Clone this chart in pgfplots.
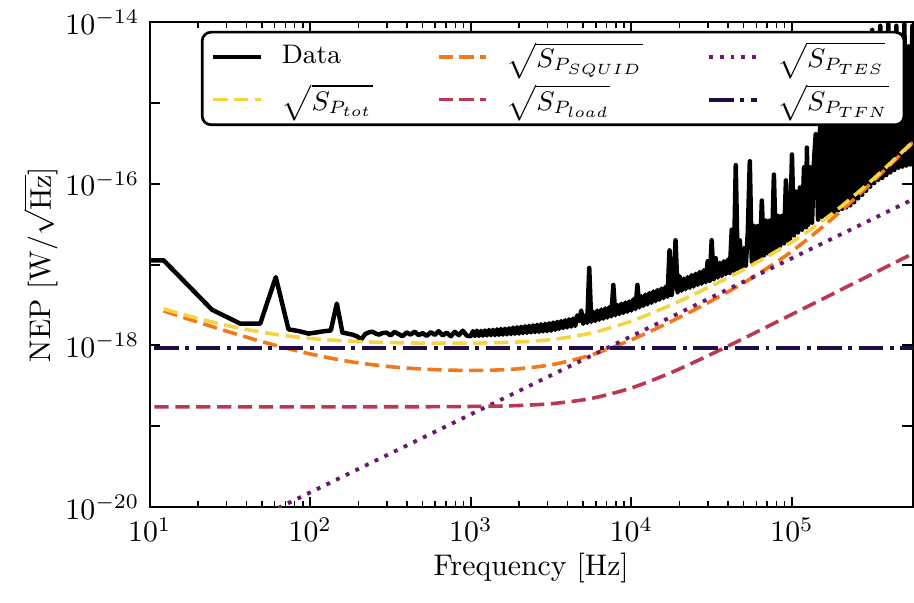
\documentclass[border=0pt]{standalone}
\usepackage{pgfplots}
\pgfplotsset{compat=1.18}
\definecolor{ctot}{HTML}{F4D444}
\definecolor{csquid}{HTML}{F37819}
\definecolor{cload}{HTML}{BC3754}
\definecolor{ctes}{HTML}{6A176E}
\definecolor{ctfn}{HTML}{1F0C48}
\begin{document}
\begin{tikzpicture}
\begin{axis}[
  scale only axis, width=256pt, height=162.7pt,
  xmode=log, ymode=log,
  xmin=10, xmax=5.66e5, ymin=1e-20, ymax=1e-14,
  tick align=inside, tick pos=both,
  major tick length=3.5pt, minor tick length=2pt,
  major tick style={black, line width=0.7pt},
  minor tick style={black, line width=0.5pt},
  ytick={1e-20,1e-19,1e-18,1e-17,1e-16,1e-15,1e-14},
  yticklabels={$10^{-20}$,,$10^{-18}$,,$10^{-16}$,,$10^{-14}$},
  yminorticks=false,
  xtick={10,100,1000,10000,100000},
  axis line style={line width=0.8pt},
  xlabel={Frequency [Hz]},
  ylabel={NEP [W/$\sqrt{\mathrm{Hz}}$]},
  xlabel shift=-3pt, ylabel shift=-4.5pt,
  legend columns=3,
  legend cell align=left,
  legend image code/.code={\draw[mark repeat=2,mark phase=2,#1] plot coordinates {(0cm,0cm) (0.28cm,0cm) (0.56cm,0cm)};},
  legend style={at={(0.067,0.982)}, anchor=north west, draw=black, line width=0.9pt,
    rounded corners=3pt, inner xsep=3pt, inner ysep=1.2pt, row sep=0pt,
    font=\fontsize{9}{10}\selectfont,
    /tikz/every odd column/.append style={column sep=4.3pt},
    /tikz/every even column/.append style={column sep=19.5pt}},
]
\addplot[black, line width=1.5pt, line join=round] coordinates {
(6.1,1.13e-17) (12.2,1.13e-17) (24.4,2.77e-18) (36.6,1.86e-18) (48.8,1.86e-18) (61.0,7.0e-18) (73.2,1.58e-18) (85.4,1.50e-18) (97.6,1.40e-18) (109.8,1.45e-18) (122.0,1.50e-18) (134.2,1.53e-18) (146.4,3.3e-18) (158.6,1.44e-18) (170.8,1.40e-18) (183.0,1.36e-18) (195.2,1.30e-18) (207.4,1.18e-18) (219.6,1.38e-18) (231.8,1.45e-18) (244.0,1.48e-18) (256.2,1.40e-18) (268.4,1.36e-18) (280.6,1.42e-18)
(298.5,1.44e-18) (316.2,1.33e-18) (335.0,1.47e-18) (354.8,1.38e-18) (375.8,1.30e-18) (398.1,1.45e-18) (421.7,1.36e-18) (446.7,1.48e-18) (473.2,1.34e-18) (501.2,1.42e-18) (530.9,1.31e-18) (562.3,1.46e-18) (595.7,1.35e-18) (631.0,1.50e-18) (668.3,1.33e-18) (707.9,1.44e-18) (749.9,1.30e-18) (794.3,1.47e-18) (841.4,1.34e-18) (891.3,1.52e-18) (944.1,1.32e-18)
(1000,1.30e-18) (1029,1.50e-18) (1059,1.31e-18) (1090,1.52e-18) (1122,1.31e-18) (1155,1.51e-18) (1189,1.32e-18) (1223,1.53e-18) (1259,1.33e-18) (1296,1.55e-18) (1334,1.34e-18) (1373,1.56e-18) (1413,1.34e-18) (1454,1.58e-18) (1496,1.35e-18) (1540,1.60e-18) (1585,1.36e-18) (1631,1.61e-18) (1679,1.37e-18) (1728,1.63e-18)
(1778,1.38e-18) (1830,1.66e-18) (1884,1.39e-18) (1939,1.68e-18) (1995,1.40e-18) (2054,1.70e-18) (2113,1.42e-18) (2175,1.73e-18) (2239,1.43e-18) (2304,1.75e-18) (2371,1.45e-18) (2441,1.77e-18) (2512,1.46e-18) (2585,1.80e-18) (2661,1.47e-18) (2738,1.83e-18) (2818,1.49e-18) (2901,1.85e-18) (2985,1.50e-18) (3073,1.88e-18)
(3162,1.52e-18) (3255,1.92e-18) (3350,1.56e-18) (3447,1.96e-18) (3548,1.60e-18) (3652,2.00e-18) (3758,1.64e-18) (3868,2.05e-18) (3981,1.67e-18) (4097,2.10e-18) (4217,1.71e-18) (4340,2.15e-18) (4467,1.74e-18) (4597,2.35e-18) (4732,2.00e-18) (4870,2.70e-18) (5012,1.85e-18) (5158,2.35e-18) (5309,1.90e-18) (5464,9.1e-18)
(5623,1.95e-18) (5788,2.60e-18) (5957,2.01e-18) (6131,2.70e-18) (6310,2.08e-18) (6494,2.78e-18) (6683,2.14e-18) (6879,2.87e-18) (7079,2.21e-18) (7286,2.97e-18) (7499,2.29e-18) (7718,5.6e-18) (7943,2.36e-18) (8175,3.17e-18) (8414,2.44e-18) (8660,3.28e-18) (8913,2.52e-18) (9173,3.39e-18) (9441,2.61e-18) (9716,3.50e-18)
(10000,2.70e-18) (10292,3.72e-18) (10593,2.82e-18) (10902,5.6e-18) (11220,2.95e-18) (11548,4.05e-18) (11885,3.08e-18) (12232,4.25e-18) (12589,3.22e-18) (12957,4.45e-18) (13335,3.37e-18) (13725,4.65e-18) (14125,3.52e-18) (14538,4.85e-18) (14962,3.68e-18) (15399,5.05e-18) (15849,3.84e-18) (16312,5.3e-18) (16788,4.0e-18) (17278,1.5e-17)
(17783,4.2e-18) (18302,6.0e-18) (18836,2.0e-17) (19387,4.55e-18) (19953,7.2e-18) (20535,4.75e-18) (21135,6.7e-18) (21752,4.95e-18) (22387,7.0e-18) (23041,5.15e-18) (23714,7.4e-18) (24406,5.35e-18) (25119,7.7e-18) (25852,5.6e-18) (26607,8.1e-18) (27384,5.8e-18) (28184,8.5e-18) (29007,6.05e-18) (29854,1.1e-17) (30726,6.3e-18)
(31623,2.0e-17) (32546,6.6e-18) (33497,1.2e-17) (34475,6.9e-18) (35481,1.05e-17) (36517,7.2e-18) (37584,1.1e-17) (38681,7.6e-18) (39811,1.15e-17) (40973,7.9e-18) (42170,2.7e-17) (43401,8.4e-18) (44668,1.7e-16) (45973,8.8e-18) (47315,2.0e-17) (48697,9.2e-18) (50119,1.6e-17) (51582,9.7e-18) (53088,2.5e-17) (54639,1.9e-16)
(56234,10.8e-18) (57876,3.0e-17) (59566,11.5e-18) (61306,3.0e-17) (63096,12.2e-18) (64938,6.2e-17) (66834,13.0e-18) (68785,3.5e-17) (70795,13.8e-18) (72862,3.5e-17) (74989,14.7e-18) (77179,1.3e-16) (79433,15.8e-18) (81752,4.0e-17) (84140,17e-18) (86596,4.0e-17) (89125,18.3e-18) (91728,1.1e-16) (94406,19.7e-18) (97163,20.5e-18)
(100000,2.3e-16) (102900,2.3e-17) (105900,8.0e-17) (109000,2.5e-17) (112200,9.0e-17) (115500,2.7e-17) (118900,1.6e-16) (122300,2.9e-17) (123900,2.8e-16) (125900,3.1e-17) (129600,1.6e-16) (133400,3.3e-17) (137300,2.0e-16) (140600,4.1e-16) (145400,3.6e-17) (149600,5.0e-16) (154000,3.9e-17) (158500,6.0e-16) (163100,4.1e-17) (167900,5.5e-16) (172800,4.3e-17) (177800,7.0e-16) (183000,4.5e-17) (188400,6.0e-16) (193900,4.7e-17) (199500,8.0e-16) (205400,4.9e-17) (211300,7.0e-16) (217500,5.1e-17) (223900,9.0e-16) (230400,5.4e-17) (237100,8.0e-16) (244100,5.9e-17) (251200,1.0e-15) (258500,6.6e-17) (266100,1.5e-15) (273800,7.3e-17) (281800,3.0e-15) (290000,8.2e-17) (298500,5.0e-15) (307200,9.2e-17) (316200,8.0e-15) (325400,1.02e-16) (335000,4.0e-15) (344700,1.12e-16) (354800,9.0e-15) (365200,1.18e-16) (375800,6.0e-15) (386800,1.28e-16) (398100,9.5e-15) (409700,1.38e-16) (421700,3.0e-15) (434000,1.48e-16) (446700,9.0e-15) (459700,1.58e-16) (473200,7.0e-15) (487000,1.63e-16) (501200,9.5e-15) (515800,1.68e-16) (530900,5.0e-15) (546400,1.73e-16) (562300,9.0e-15) (578700,1.78e-16)
};
\addlegendentry{Data}
\addplot[csquid, line width=1.2pt, dash pattern=on 4.8pt off 2.2pt, smooth] coordinates {
(12.2,2.68e-18) (17.78,2.09e-18) (31.62,1.458e-18) (56.23,1.044e-18) (100,7.84e-19) (177.8,6.29e-19) (316.2,5.45e-19) (562.3,5.04e-19) (1000,4.905e-19) (1778,5.06e-19) (3162,5.754e-19) (5623,7.62e-19) (10000,1.173e-18) (17783,1.989e-18) (31623,3.569e-18) (56234,6.824e-18) (100000,1.464e-17) (177828,3.678e-17) (316228,1.050e-16) (566000,3.24e-16)
};
\addlegendentry{$\sqrt{S_{P_{SQUID}}}$}
\addplot[ctes, line width=1.3pt, dash pattern=on 1.3pt off 2.3pt, smooth] coordinates {
(31.62,5.0e-21) (56.23,8.7e-21) (100,1.519e-20) (177.8,2.649e-20) (316.2,4.62e-20) (562.3,8.05e-20) (1000,1.404e-19) (1778,2.448e-19) (3162,4.27e-19) (5623,7.44e-19) (10000,1.298e-18) (17783,2.264e-18) (31623,3.948e-18) (56234,6.88e-18) (100000,1.2e-17) (177828,2.093e-17) (316228,3.65e-17) (566000,6.41e-17)
};
\addlegendentry{$\sqrt{S_{P_{TES}}}$}
\addplot[ctot, line width=1.2pt, dash pattern=on 4.8pt off 2.2pt, smooth] coordinates {
(12.2,2.835e-18) (17.78,2.293e-18) (31.62,1.733e-18) (56.23,1.403e-18) (100,1.221e-18) (177.8,1.128e-18) (316.2,1.084e-18) (562.3,1.066e-18) (1000,1.067e-18) (1778,1.093e-18) (3162,1.181e-18) (5623,1.425e-18) (10000,1.999e-18) (17783,3.185e-18) (31623,5.458e-18) (56234,9.83e-18) (100000,1.911e-17) (177828,4.255e-17) (316228,1.114e-16) (566000,3.30e-16)
};
\addlegendentry{$\sqrt{S_{P_{tot}}}$}
\addplot[cload, line width=1.2pt, dash pattern=on 4.8pt off 2.2pt, smooth] coordinates {
(10.7,1.74e-19) (100,1.74e-19) (316.2,1.742e-19) (562.3,1.745e-19) (1000,1.757e-19) (1778,1.792e-19) (3162,1.900e-19) (5623,2.208e-19) (10000,2.978e-19) (17783,4.636e-19) (31623,7.838e-19) (56234,1.370e-18) (100000,2.423e-18) (177828,4.30e-18) (316228,7.644e-18) (566000,1.368e-17)
};
\addlegendentry{$\sqrt{S_{P_{load}}}$}
\addplot[ctfn, line width=1.3pt, dash pattern=on 8.2pt off 2.2pt on 1.3pt off 2.2pt] coordinates {
(10.7,9.2e-19) (566000,9.2e-19)
};
\addlegendentry{$\sqrt{S_{P_{TFN}}}$}
\end{axis}
\path (current bounding box.west) ++(-4.5pt,0);
\path (current bounding box.south) ++(0,-3pt);
\end{tikzpicture}
\end{document}
